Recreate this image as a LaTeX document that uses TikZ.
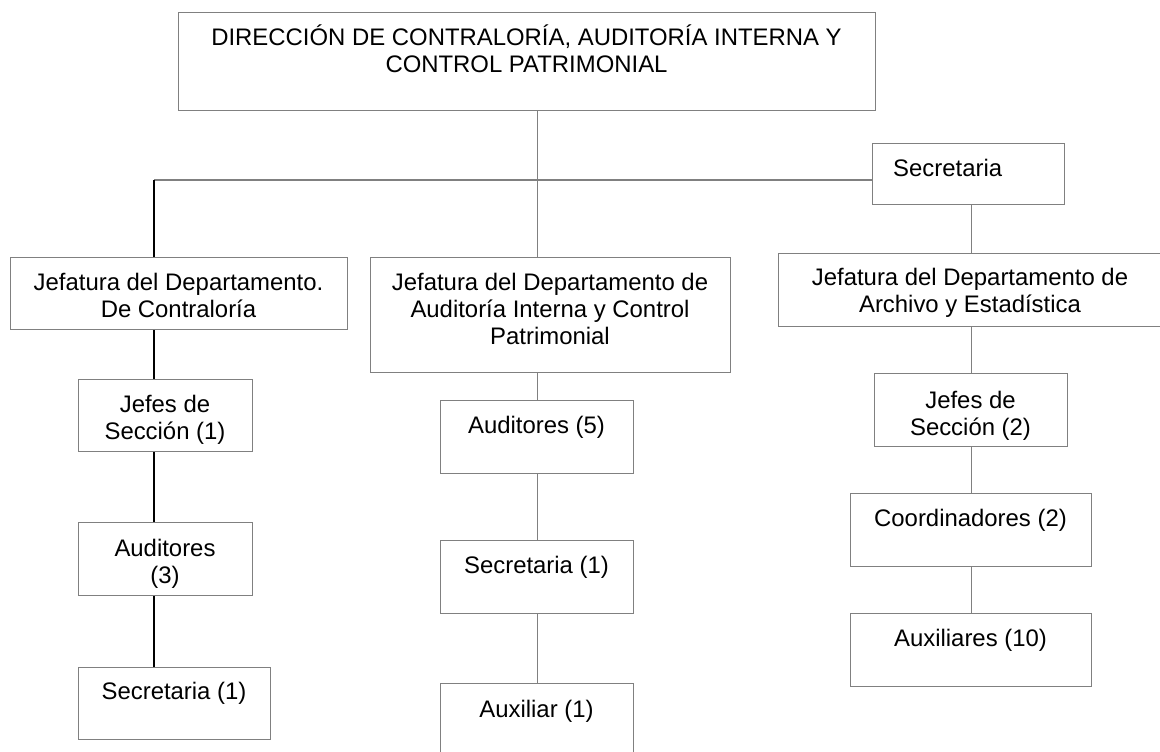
\documentclass[tikz,border=0pt]{standalone}
\usepackage{fontspec}
\setmainfont{Liberation Sans}
\definecolor{bgray}{HTML}{808080}
\newcommand{\dfont}{\fontsize{23.9pt}{27pt}\selectfont}
\newcommand{\tstrut}{\rule{0pt}{24pt}}
\begin{document}
\begin{tikzpicture}[x=1pt,y=-1pt,
  box/.style={draw=bgray, line width=1.4pt, fill=white, inner sep=0pt, anchor=north west},
  txt/.style={anchor=north, align=center, inner sep=0pt, font=\dfont},
  gline/.style={draw=bgray, line width=1.4pt},
  bline/.style={draw=black, line width=1.3pt}]
\useasboundingbox (0,0) rectangle (1160,752);

% boxes
\node[box, minimum width=697pt, minimum height=98pt] (top) at (178,12) {};
\node[box, minimum width=192pt, minimum height=61pt] (sec0) at (872,143) {};
\node[box, minimum width=337pt, minimum height=72pt] (L1) at (10,257) {};
\node[box, minimum width=360pt, minimum height=115pt] (M1) at (370,257) {};
\node[box, minimum width=384pt, minimum height=73pt] (R1) at (778,253) {};
\node[box, minimum width=174pt, minimum height=72pt] (L2) at (78,379) {};
\node[box, minimum width=174pt, minimum height=73pt] (L3) at (78,522) {};
\node[box, minimum width=192pt, minimum height=72pt] (L4) at (78,667) {};
\node[box, minimum width=193pt, minimum height=73pt] (M2) at (440,400) {};
\node[box, minimum width=193pt, minimum height=73pt] (M3) at (440,540) {};
\node[box, minimum width=193pt, minimum height=100pt] (M4) at (440,683) {};
\node[box, minimum width=193pt, minimum height=73pt] (R2) at (874,373) {};
\node[box, minimum width=241pt, minimum height=73pt] (R3) at (850,493) {};
\node[box, minimum width=241pt, minimum height=73pt] (R4) at (850,613) {};

% texts
\node[txt] (tTop) at (526.5,21) {\tstrut DIRECCIÓN DE CONTRALORÍA, AUDITORÍA INTERNA Y\\CONTROL PATRIMONIAL};
\node[txt, anchor=north west] (tSec0) at (893,152) {\tstrut Secretaria};
\node[txt] (tL1) at (178.5,266) {\tstrut Jefatura del Departamento.\\De Contraloría};
\node[txt] (tM1) at (550,266) {\tstrut Jefatura del Departamento de\\Auditoría Interna y Control\\Patrimonial};
\node[txt] (tR1) at (970,261) {\tstrut Jefatura del Departamento de\\Archivo y Estadística};
\node[txt] (tL2) at (165,388) {\tstrut Jefes de\\Sección (1)};
\node[txt] (tL3) at (165,532) {\tstrut Auditores\\(3)};
\node[txt] (tL4) at (174,675) {\tstrut Secretaria (1)};
\node[txt] (tM2) at (536.5,409) {\tstrut Auditores (5)};
\node[txt] (tM3) at (536.5,549) {\tstrut Secretaria (1)};
\node[txt] (tM4) at (536.5,693) {\tstrut Auxiliar (1)};
\node[txt] (tR2) at (970.5,384) {\tstrut Jefes de\\Sección (2)};
\node[txt] (tR3) at (970.5,502) {\tstrut Coordinadores (2)};
\node[txt] (tR4) at (970.5,622) {\tstrut Auxiliares (10)};

% connectors
\coordinate (hL) at (154,180);
\draw[gline] (M2.north |- top.south) -- (M2.north |- M1.north);
\draw[gline] (hL) -- (hL -| sec0.west);
\draw[bline] (hL) -- (hL |- L1.north);
\draw[gline] (R2.north |- sec0.south) -- (R2.north |- R1.north);
\draw[bline] (hL |- L1.south) -- (hL |- L2.north);
\draw[bline] (hL |- L2.south) -- (hL |- L3.north);
\draw[bline] (hL |- L3.south) -- (hL |- L4.north);
\draw[gline] (M2.north |- M1.south) -- (M2.north);
\draw[gline] (M2.south) -- (M3.north);
\draw[gline] (M3.south) -- (M4.north);
\draw[gline] (R2.north |- R1.south) -- (R2.north);
\draw[gline] (R2.south) -- (R3.north);
\draw[gline] (R3.south) -- (R4.north);
\end{tikzpicture}
\end{document}
